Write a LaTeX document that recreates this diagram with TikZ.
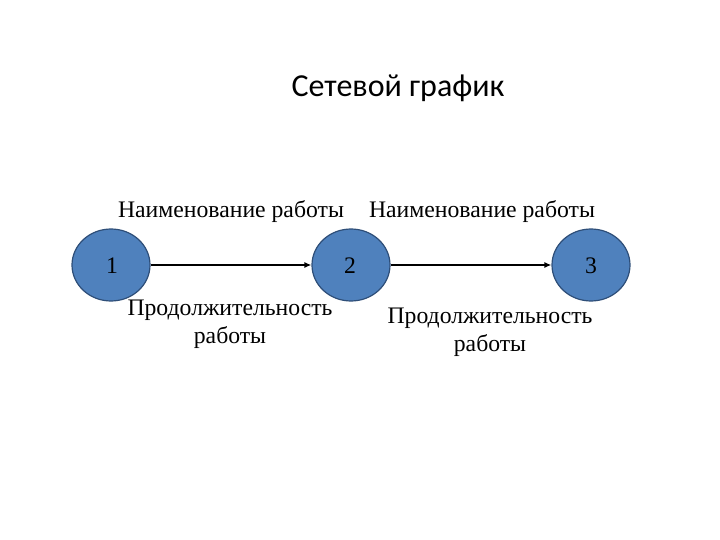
\documentclass[tikz,border=0pt]{standalone}
\usepackage{fontspec}
\setmainfont{Liberation Serif}
\newfontfamily\zagolovok{Carlito}
\usetikzlibrary{arrows.meta, positioning, shapes.geometric}
\definecolor{sinij}{RGB}{79, 129, 189}
\definecolor{sinijkraj}{RGB}{46, 78, 120}
\tikzset{
  sobytie/.style={
    draw=sinijkraj, fill=sinij, ellipse, minimum width=78pt, minimum height=72pt,
    inner sep=0pt, line width=1.2pt
  },
  podpis/.style={font=\fontsize{23.7}{28}\selectfont, align=center, inner sep=0pt},
  seta/.style={-{Latex[length=7pt, width=6pt]}, line width=1.6pt, black},
}

\begin{document}
\begin{tikzpicture}[x=1pt, y=-1pt]
\useasboundingbox (0,0) rectangle (720,540);

% Заголовок
\node[font=\zagolovok\fontsize{32}{36}\selectfont] (titul) at (398,88) {Сетевой график};

% События
\node[sobytie] (s1) at (111,265) {};
\node[sobytie] (s2) at (351,265) {};
\node[sobytie] (s3) at (591,265) {};

\node[podpis] (n1) at (112,266) {1};
\node[podpis] (n2) at (350,266) {2};
\node[podpis] (n3) at (591,266) {3};

% Работы
\draw[seta] (s1) -- (s2);
\draw[seta] (s2) -- (s3);

% Подписи
\node[podpis] (nazv1) at (231,212) {Наименование работы};
\node[podpis] (nazv2) at (482,212) {Наименование работы};
\node[podpis, text depth=0pt] (dlit1) at (230,322) {Продолжительность\\работы};
\node[podpis, text depth=0pt] (dlit2) at (490,330) {Продолжительность\\работы};

\end{tikzpicture}
\end{document}
